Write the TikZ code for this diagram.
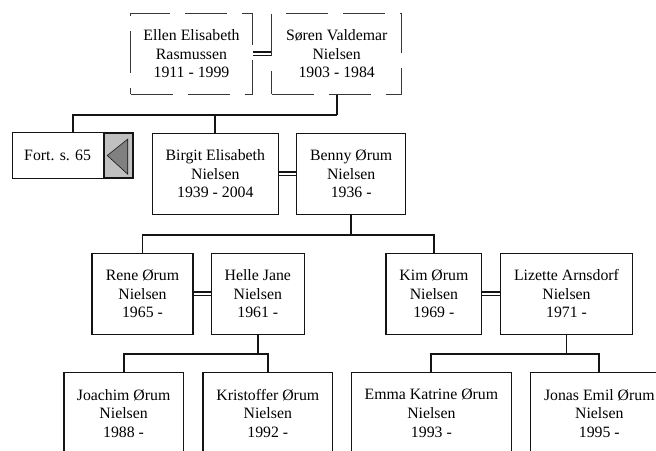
\documentclass[tikz,border=0pt]{standalone}
\usepackage{fontspec}
\setmainfont{Liberation Serif}
\usepackage{tikz}
\usetikzlibrary{calc, positioning}
\usepackage{xcolor}
\definecolor{DG}{RGB}{20,20,20}
\definecolor{MG}{RGB}{128,128,128}
\definecolor{LGr}{RGB}{192,192,192}
\tikzset{
  person/.style={draw=DG, line width=1.5pt, minimum height=81pt, inner sep=0pt,
    align=center, font=\fontsize{15.8}{18.6}\selectfont},
  ancestor/.style={person, draw=DG!85, line width=1pt, dash pattern=on 42pt off 15pt},
  link/.style={draw=DG, line width=1.9pt},
  marriage/.style={draw=DG, line width=1.3pt, double, double distance=2.3pt}
}

\begin{document}
\begin{tikzpicture}[x=1pt, y=-1pt]
\useasboundingbox (0,0) rectangle (656,450);
\clip (0,0) rectangle (656,450);

% Grandparents (dashed)
\node[ancestor, minimum width=121.6pt] (ellen) at (191.5,53.8) {Ellen Elisabeth\\Rasmussen\\1911 - 1999};
\node[ancestor, minimum width=130pt]   (soren) at (336.7,53.8) {Søren Valdemar\\Nielsen\\1903 - 1984};

% Second row
\node[person, minimum width=120.6pt, minimum height=45.6pt] (fort) at (73,155.5) {};
\node[draw=DG, fill=LGr, line width=1.8pt, inner sep=0pt, minimum width=29pt,
  minimum height=45.6pt, anchor=east] (fortarrow) at (fort.east) {};
\node[font=\fontsize{15.8}{18.6}\selectfont] (forttext) at ($(fort.west)!0.5!(fortarrow.west)$) {Fort. s. 65};
\filldraw[fill=MG, draw=DG, line width=0.6pt]
  ([xshift=4pt]fortarrow.west) -- ([xshift=-6.3pt, yshift=-7.3pt]fortarrow.north east)
  -- ([xshift=-6.3pt, yshift=5pt]fortarrow.south east) -- cycle;
\node[person, minimum width=126pt] (birgit) at (215.3,173.8) {Birgit Elisabeth\\Nielsen\\1939 - 2004};
\node[person, minimum width=109pt] (benny)  at (351.2,173.8) {Benny Ørum\\Nielsen\\1936 -};

% Third row
\node[person, minimum width=101pt]   (rene)    at (142.5,293.8) {Rene Ørum\\Nielsen\\1965 -};
\node[person, minimum width=93pt]    (helle)   at (257.8,293.8) {Helle Jane\\Nielsen\\1961 -};
\node[person, minimum width=95.4pt]  (kim)     at (433.9,293.8) {Kim Ørum\\Nielsen\\1969 -};
\node[person, minimum width=132.4pt] (lizette) at (566.5,293.8) {Lizette Arnsdorf\\Nielsen\\1971 -};

% Grandchildren
\node[person, minimum width=119.3pt] (joachim)    at (123.6,413.2) {Joachim Ørum\\Nielsen\\1988 -};
\node[person, minimum width=129.6pt] (kristoffer) at (267.8,413.2) {Kristoffer Ørum\\Nielsen\\1992 -};
\node[person, minimum width=159.8pt] (emma)       at (431.4,413.2) {Emma Katrine Ørum\\Nielsen\\1993 -};
\node[person, minimum width=137.6pt] (jonas)      at (599.3,413.2) {Jonas Emil Ørum\\Nielsen\\1995 -};

% Marriages
\draw[marriage] (ellen.east) -- (soren.west);
\draw[marriage] (birgit.east) -- (benny.west);
\draw[marriage] (rene.east) -- (helle.west);
\draw[marriage] (kim.east) -- (lizette.west);

% Descent lines
\draw[link] (soren.south) -- ++(0,20) coordinate (j1);
\draw[link] (fort.north) |- (j1);
\draw[link] (birgit.north) |- (j1);
\draw[link] (benny.south) -- ++(0,20) coordinate (j2);
\draw[link] (rene.north) |- (j2);
\draw[link] (kim.north) |- (j2);
\draw[link] (helle.south) -- ++(0,18.5) coordinate (j3);
\draw[link] (joachim.north) |- (j3);
\draw[link] (kristoffer.north) |- (j3);
\draw[link] (lizette.south) -- ++(0,19) coordinate (j4);
\draw[link] (emma.north) |- (j4);
\draw[link] (jonas.north) |- (j4);
\end{tikzpicture}
\end{document}
